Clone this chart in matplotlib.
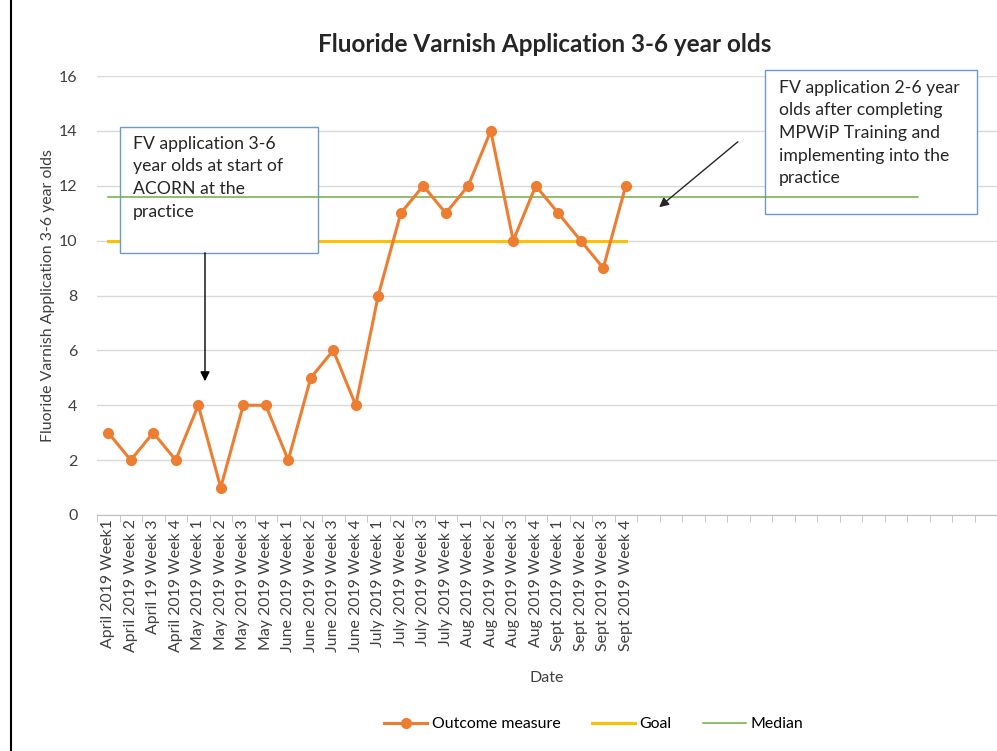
import numpy as np
import matplotlib
matplotlib.use("Agg")
import matplotlib.pyplot as plt
from matplotlib.patches import Rectangle
from matplotlib.lines import Line2D

plt.rcParams['font.family'] = ['Lato', 'DejaVu Sans']

labels = ['April 2019 Week1', 'April 2019 Week 2', 'April 19 Week 3', 'April 2019 Week 4',
          'May 2019 Week 1', 'May 2019 Week 2', 'May 2019 Week 3', 'May 2019 Week 4',
          'June 2019 Week 1', 'June 2019 Week 2', 'June 2019 Week 3', 'June 2019 Week 4',
          'July 2019 Week 1', 'July 2019 Week 2', 'July 2019 Week 3', 'July 2019 Week 4',
          'Aug 2019 Week 1', 'Aug 2019 Week 2', 'Aug 2019 Week 3', 'Aug 2019 Week 4',
          'Sept 2019 Week 1', 'Sept 2019 Week 2', 'Sept 2019 Week 3', 'Sept 2019 Week 4']
outcome = [3, 2, 3, 2, 4, 1, 4, 4, 2, 5, 6, 4, 8, 11, 12, 11, 12, 14, 10, 12, 11, 10, 9, 12]
goal = [10] * 24
median = [11.6] * 37
n_cats = 40

fig = plt.figure(figsize=(9.97, 7.51), dpi=100)
ax = fig.add_axes([97 / 997, 1 - 515 / 751, 1 - 97 / 997, (515 - 76) / 751])

x = np.arange(n_cats)
ax.plot(x[:len(goal)], goal, color='#FFC000', lw=2.2, zorder=2, label='Goal')
ax.plot(x[:len(median)], median, color='#70AD47', lw=1.1, zorder=4, label='Median')
ax.plot(x[:len(outcome)], outcome, color='#ED7D31', lw=2.2, marker='o', ms=7,
        zorder=5, label='Outcome measure')

ax.set_xlim(-0.5, n_cats - 0.5)
ax.set_ylim(0, 16)
ax.set_yticks(range(0, 17, 2))
ax.grid(axis='y', color='#D9D9D9', lw=1, zorder=0)
ax.set_axisbelow(True)
for s in ['top', 'right', 'left']:
    ax.spines[s].set_visible(False)
ax.spines['bottom'].set_color('#BFBFBF')
ax.tick_params(axis='y', length=0, labelsize=11.5, colors='#404040', pad=14)

ax.set_xticks(x)
ax.set_xticklabels(labels + [''] * (n_cats - len(labels)), rotation=90, fontsize=11.4,
                   color='#404040')
ax.tick_params(axis='x', which='major', length=0, pad=3)
ax.set_xticks(np.arange(-0.5, n_cats, 1), minor=True)
ax.tick_params(axis='x', which='minor', length=5, color='#BFBFBF')

ax.set_xlabel('Date', fontsize=11.5, color='#404040', labelpad=14)
ax.set_ylabel('Fluoride Varnish Application 3-6 year olds', fontsize=11.4,
              color='#404040', labelpad=3)
fig.text(545 / 997, 1 - 45 / 751, 'Fluoride Varnish Application 3-6 year olds',
         ha='center', va='center', fontsize=17.5, fontweight='bold', color='#262626')

# annotation boxes (median line runs over them, goal line under)
box_col = '#6E9BC5'
ax.add_patch(Rectangle((120 / 997, 1 - 253 / 751), 198 / 997, 126 / 751,
                       transform=fig.transFigure, clip_on=False, facecolor='white',
                       edgecolor=box_col, lw=1, zorder=3))
ax.add_patch(Rectangle((765 / 997, 1 - 214 / 751), 212 / 997, 144 / 751,
                       transform=fig.transFigure, clip_on=False, facecolor='white',
                       edgecolor=box_col, lw=1, zorder=3))
fig.text(133 / 997, 1 - 136 / 751,
         'FV application 3-6\nyear olds at start of\nACORN at the\npractice',
         ha='left', va='top', fontsize=12.7, linespacing=1.5, color='#262626')
fig.text(779 / 997, 1 - 80 / 751,
         'FV application 2-6 year\nolds after completing\nMPWiP Training and\n'
         'implementing into the\npractice',
         ha='left', va='top', fontsize=12.7, linespacing=1.5, color='#262626')

ax.annotate('', xy=(205 / 997, 1 - 384 / 751), xytext=(205 / 997, 1 - 250 / 751),
            xycoords='figure fraction', textcoords='figure fraction',
            arrowprops=dict(arrowstyle='-|>', color='black', lw=1, mutation_scale=14),
            zorder=6)
ax.annotate('', xy=(657 / 997, 1 - 209 / 751), xytext=(740 / 997, 1 - 140 / 751),
            xycoords='figure fraction', textcoords='figure fraction',
            arrowprops=dict(arrowstyle='-|>', color='#262626', lw=1, mutation_scale=14),
            zorder=6)

# legend in Excel order
h, l = ax.get_legend_handles_labels()
order = [2, 0, 1]
fig.legend([h[i] for i in order], [l[i] for i in order], loc='center',
           bbox_to_anchor=(594 / 997, 1 - 724 / 751), ncol=3, frameon=False,
           fontsize=11.4, handlelength=2.7, columnspacing=2.0, handletextpad=0.3)

fig.add_artist(Line2D([11 / 997, 11 / 997], [0, 1], color='black', lw=1.5))

fig.savefig('out.png', dpi=100)
